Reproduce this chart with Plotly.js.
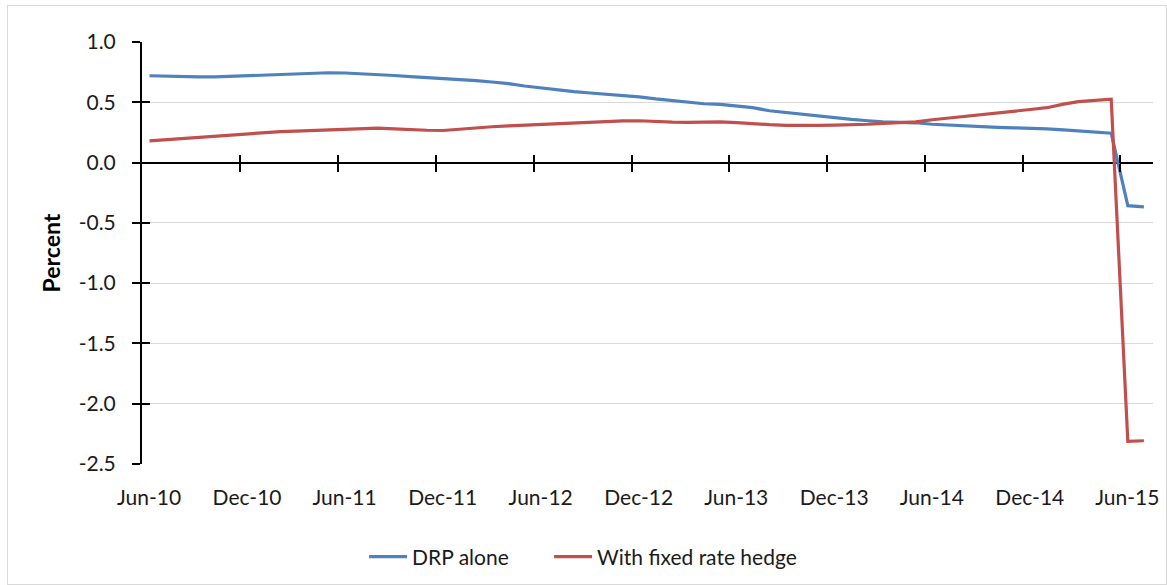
<!DOCTYPE html>
<html>
<head>
<meta charset="utf-8">
<script src="https://cdn.plot.ly/plotly-3.0.1.min.js"></script>
<style>
  html, body { margin: 0; padding: 0; background: #fff; }
  #chart { width: 1167px; height: 585px; }
  #frame { position: absolute; left: 7px; top: 5px; width: 1158px; height: 578px; border: 1px solid #d9d9d9; pointer-events: none; }
</style>
</head>
<body>
<div id="chart"></div>
<div id="frame"></div>
<script>
// Monthly observation dates (mid-month), Jun-2010 .. Jul-2015
const dates = [
  '2010-06-15','2010-07-15','2010-08-15','2010-09-15','2010-10-15','2010-11-15',
  '2010-12-15','2011-01-15','2011-02-15','2011-03-15','2011-04-15','2011-05-15',
  '2011-06-15','2011-07-15','2011-08-15','2011-09-15','2011-10-15','2011-11-15',
  '2011-12-15','2012-01-15','2012-02-15','2012-03-15','2012-04-15','2012-05-15',
  '2012-06-15','2012-07-15','2012-08-15','2012-09-15','2012-10-15','2012-11-15',
  '2012-12-15','2013-01-15','2013-02-15','2013-03-15','2013-04-15','2013-05-15',
  '2013-06-15','2013-07-15','2013-08-15','2013-09-15','2013-10-15','2013-11-15',
  '2013-12-15','2014-01-15','2014-02-15','2014-03-15','2014-04-15','2014-05-15',
  '2014-06-15','2014-07-15','2014-08-15','2014-09-15','2014-10-15','2014-11-15',
  '2014-12-15','2015-01-15','2015-02-15','2015-03-15','2015-04-15','2015-05-15',
  '2015-06-15','2015-07-15'
];

// DRP alone (percent)
const drpAlone = [
  0.720, 0.715, 0.712, 0.710, 0.710, 0.715,
  0.720, 0.728, 0.735, 0.741, 0.746, 0.745,
  0.743, 0.738, 0.733, 0.722, 0.713, 0.705,
  0.700, 0.690, 0.680, 0.668, 0.655, 0.635,
  0.617, 0.600, 0.588, 0.577, 0.567, 0.558,
  0.545, 0.528, 0.512, 0.498, 0.488, 0.482,
  0.470, 0.455, 0.430, 0.414, 0.399, 0.384,
  0.368, 0.358, 0.347, 0.337, 0.333, 0.330,
  0.318, 0.310, 0.302, 0.297, 0.292, 0.288,
  0.285, 0.280, 0.272, 0.265, 0.255, 0.244,
  -0.357, -0.367
];

// With fixed rate hedge (percent)
const withHedge = [
  0.180, 0.190, 0.200, 0.210, 0.222, 0.232,
  0.241, 0.250, 0.257, 0.260, 0.264, 0.268,
  0.273, 0.279, 0.285, 0.280, 0.272, 0.268,
  0.266, 0.278, 0.289, 0.297, 0.305, 0.311,
  0.318, 0.324, 0.330, 0.336, 0.340, 0.346,
  0.347, 0.340, 0.336, 0.334, 0.338, 0.338,
  0.332, 0.320, 0.314, 0.309, 0.307, 0.308,
  0.311, 0.313, 0.318, 0.325, 0.332, 0.338,
  0.355, 0.370, 0.385, 0.398, 0.410, 0.428,
  0.440, 0.455, 0.485, 0.505, 0.515, 0.525,
  -2.313, -2.307
];

// Axis tick dates and labels
const tickDates = ['2010-06-01','2010-12-01','2011-06-01','2011-12-01','2012-06-01','2012-12-01',
                   '2013-06-01','2013-12-01','2014-06-01','2014-12-01','2015-06-01'];
const tickLabels = ['Jun-10','Dec-10','Jun-11','Dec-11','Jun-12','Dec-12',
                    'Jun-13','Dec-13','Jun-14','Dec-14','Jun-15'];
const yTicks = [1.0, 0.5, 0.0, -0.5, -1.0, -1.5, -2.0, -2.5];
const yTickLabels = ['1.0','0.5','0.0','-0.5','-1.0','-1.5','-2.0','-2.5'];
const seriesNames = ['DRP alone', 'With fixed rate hedge'];

const xRange = ['2010-06-01', '2015-08-01'];
const yRange = [-2.5, 1.0];
const font = 'Lato, "Open Sans", sans-serif';

// invisible helper traces so the overlay tick axes get drawn
function helper(xa, ya) {
  return { x: dates, y: drpAlone, type: 'scatter', mode: 'lines', showlegend: false,
           hoverinfo: 'skip', line: { color: 'rgba(0,0,0,0)', width: 0 }, xaxis: xa, yaxis: ya };
}

const traces = [
  helper('x2', 'y2'),
  helper('x3', 'y2'),
  { x: dates, y: drpAlone, name: seriesNames[0], type: 'scatter', mode: 'lines',
    line: { color: '#4F81BD', width: 3.2 }, xaxis: 'x', yaxis: 'y', legend: 'legend' },
  { x: dates, y: withHedge, name: seriesNames[1], type: 'scatter', mode: 'lines',
    line: { color: '#C0504D', width: 3.2 }, xaxis: 'x', yaxis: 'y', legend: 'legend2' }
];

const zeroPos = (0 - yRange[0]) / (yRange[1] - yRange[0]);
const crossTickVals = tickDates.slice(1);
const legendFont = { family: font, size: 21, color: '#1a1a1a' };

const layout = {
  width: 1167, height: 585,
  margin: { l: 142, r: 14, t: 42, b: 121, autoexpand: false },
  paper_bgcolor: '#fff', plot_bgcolor: 'rgba(0,0,0,0)',
  font: { family: font, size: 21, color: '#1a1a1a' },
  showlegend: true,
  legend: { orientation: 'h', xref: 'container', yref: 'container', x: 0.312, xanchor: 'left',
            y: 0.048, yanchor: 'middle', font: legendFont, itemwidth: 38 },
  legend2: { orientation: 'h', xref: 'container', yref: 'container', x: 0.4705, xanchor: 'left',
            y: 0.048, yanchor: 'middle', font: legendFont, itemwidth: 38 },
  xaxis: {
    type: 'date', range: xRange, tickmode: 'array', tickvals: tickDates, ticktext: tickLabels,
    showgrid: false, zeroline: false, showline: false, ticks: '', automargin: false,
    ticklabelstandoff: 19, ticklabelshift: 7,
    tickfont: { family: font, size: 21, color: '#1a1a1a' }
  },
  xaxis2: {
    type: 'date', range: xRange, overlaying: 'x', anchor: 'free', position: zeroPos,
    tickmode: 'array', tickvals: crossTickVals, showticklabels: false, automargin: false,
    ticks: 'outside', ticklen: 8, tickwidth: 2, tickcolor: '#000',
    showgrid: false, zeroline: false, showline: false
  },
  xaxis3: {
    type: 'date', range: xRange, overlaying: 'x', anchor: 'free', position: zeroPos,
    tickmode: 'array', tickvals: crossTickVals, showticklabels: false, automargin: false,
    ticks: 'inside', ticklen: 8, tickwidth: 2, tickcolor: '#000',
    showgrid: false, zeroline: false, showline: false
  },
  yaxis: {
    range: yRange, tickmode: 'array', tickvals: yTicks, ticktext: yTickLabels, automargin: false,
    showgrid: true, gridcolor: '#d9d9d9', gridwidth: 1,
    zeroline: true, zerolinecolor: '#000', zerolinewidth: 2,
    showline: true, linecolor: '#000', linewidth: 2,
    ticks: 'outside', ticklen: 8, tickwidth: 2, tickcolor: '#000',
    ticklabelstandoff: 12,
    tickfont: { family: font, size: 21, color: '#1a1a1a' },
    title: { text: '<b>Percent</b>', font: { family: font, size: 23, color: '#000' }, standoff: 12 }
  },
  yaxis2: {
    range: yRange, overlaying: 'y', side: 'left', anchor: 'x', tickmode: 'array', tickvals: yTicks,
    showticklabels: false, ticks: 'inside', ticklen: 8, tickwidth: 2, tickcolor: '#000', automargin: false,
    showgrid: false, zeroline: false, showline: false
  }
};

Plotly.newPlot('chart', traces, layout, { displayModeBar: false, staticPlot: true });
</script>
</body>
</html>
